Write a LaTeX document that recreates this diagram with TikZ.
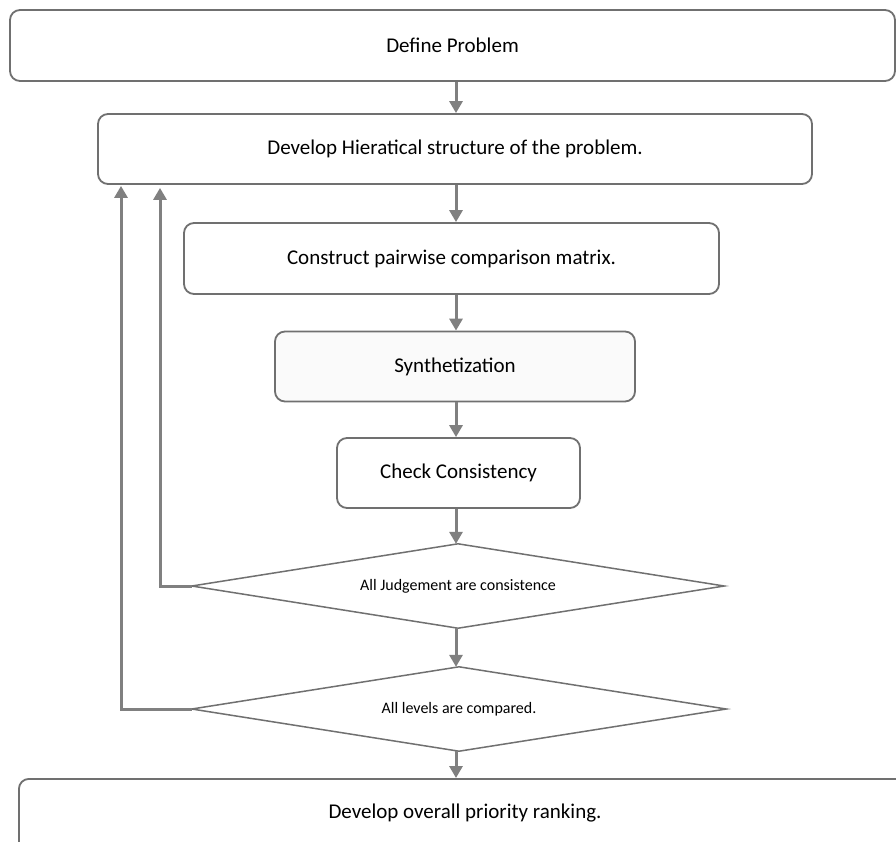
\documentclass[tikz,border=0pt]{standalone}
\usepackage{fontspec}
\setmainfont{Carlito}
\usetikzlibrary{arrows.meta}
\definecolor{linegray}{RGB}{112,112,112}
\definecolor{arrowgray}{RGB}{128,128,128}
\tikzset{
  stepbox/.style={draw=linegray, line width=1.8pt, rounded corners=10pt, fill=white,
    inner sep=0pt, font=\fontsize{21}{25}\selectfont},
  decision/.style={rectangle, inner sep=0pt, font=\fontsize{16}{19}\selectfont},
  diamondline/.style={draw=linegray, line width=1.5pt, fill=white, line join=miter},
  arr/.style={draw=arrowgray, line width=3pt, -{Triangle[length=12pt,width=13pt]}},
}
\begin{document}
\begin{tikzpicture}[x=1pt,y=-1pt]
\clip (0,0) rectangle (896,841);
\fill[white] (0,0) rectangle (896,841);
\coordinate (cx) at (456,0);
\node[stepbox, minimum width=885pt, minimum height=71pt] (b1) at (452.5,45.5) {Define Problem};
\node[stepbox, minimum width=714pt, minimum height=70pt] (b2) at (455,149) {Develop Hieratical structure of the problem.};
\node[stepbox, minimum width=535pt, minimum height=71pt] (b3) at (451.5,258.5) {Construct pairwise comparison matrix.};
\node[stepbox, minimum width=360pt, minimum height=70pt, fill=gray!4] (b4) at (455,366.5) {Synthetization};
\node[stepbox, minimum width=243pt, minimum height=70pt] (b5) at (458.5,473) {Check Consistency};
% decision shapes: invisible rectangles carrying the anchors, outline drawn as a rhombus
\node[decision, minimum width=532pt, minimum height=84pt] (d1) at (458,586) {};
\draw[diamondline] (d1.north) -- (d1.east) -- (d1.south) -- (d1.west) -- cycle;
\node[decision] (d1t) at (d1.center) {All Judgement are consistence};
\node[decision, minimum width=534pt, minimum height=84pt] (d2) at (459,709) {};
\draw[diamondline] (d2.north) -- (d2.east) -- (d2.south) -- (d2.west) -- cycle;
\node[decision] (d2t) at (d2.center) {All levels are compared.};
\node[stepbox, minimum width=920pt, minimum height=100pt, anchor=north west] (b6) at (18,778) {};
\node[font=\fontsize{21}{25}\selectfont] (t6) at (465,813) {Develop overall priority ranking.};
\coordinate (l1) at (160,0);
\coordinate (l2) at (121,0);
\draw[arr] (b1.south -| cx) -- (b2.north -| cx);
\draw[arr] (b2.south -| cx) -- (b3.north -| cx);
\draw[arr] (b3.south -| cx) -- (b4.north -| cx);
\draw[arr] (b4.south -| cx) -- (b5.north -| cx);
\draw[arr] (b5.south -| cx) -- (d1.north -| cx);
\draw[arr] (d1.south -| cx) -- (d2.north -| cx);
\draw[arr] (d2.south -| cx) -- (b6.north -| cx);
\draw[arr] (d1.west) -- (d1.west -| l1) -- ([yshift=-3pt]b2.south -| l1);
\draw[arr] (d2.west) -- (d2.west -| l2) -- ([yshift=-1pt]b2.south -| l2);
\end{tikzpicture}
\end{document}
